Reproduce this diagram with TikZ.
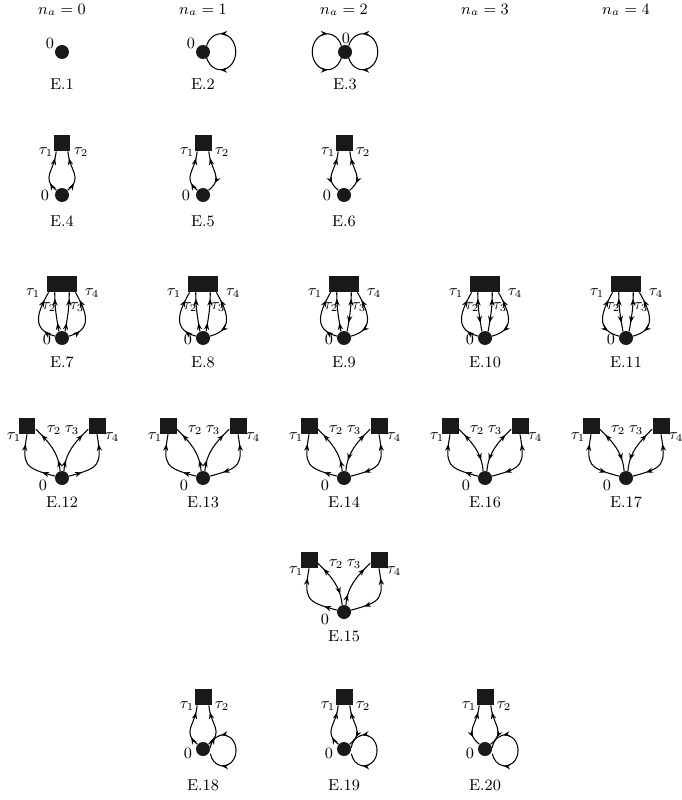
\documentclass[tikz,border=0pt]{standalone}
\usepackage{amsmath}
\usetikzlibrary{arrows.meta,decorations.markings}

\begin{document}
\begin{tikzpicture}[
  x=0.02cm, y=-0.02cm,
  >={Stealth[length=4pt,width=3pt]},
  every node/.style={font=\small},
  vtx/.style={circle, fill=black!90, inner sep=0pt, minimum size=0.28cm},
  tau/.style={rectangle, fill=black!90, inner sep=0pt, minimum width=0.34cm, minimum height=0.32cm},
  taus/.style={rectangle, fill=black!90, inner sep=0pt, minimum width=0.6cm, minimum height=0.32cm},
  ln/.style={semithick},
  uu/.style={ln, postaction={decorate}, decoration={markings,
      mark=at position 0.22 with {\arrow{>}},
      mark=at position 0.84 with {\arrow{>}}}},
  du/.style={ln, postaction={decorate}, decoration={markings,
      mark=at position 0.22 with {\arrowreversed{>}},
      mark=at position 0.84 with {\arrow{>}}}},
  lp/.style={ln, postaction={decorate}, decoration={markings,
      mark=at position 0.21 with {\arrowreversed{>}},
      mark=at position 0.79 with {\arrow{>}}}}
]
  \useasboundingbox (0,0) rectangle (681,800);

  % headers
  \foreach \n/\x in {0/62, 1/203, 2/344, 3/485, 4/626}
    \node (h\n) at (\x,10) {$n_a=\n$};

  % first row
  \node[vtx] (o1) at (62,52) {};
  \node (z1) at (50,43) {$0$};
  \node (e1) at (62,84) {E.1};

  \node[vtx] (o2) at (203,52) {};
  \node (z2) at (191,43) {$0$};
  \node (e2) at (203,84) {E.2};
  \draw[lp] (o2.60) arc[start angle=160, end angle=-160, x radius=0.3cm, y radius=0.36cm];

  \node[vtx] (o3) at (345,52) {};
  \node (z3) at (346,38) {$0$};
  \node (e3) at (345,84) {E.3};
  \draw[lp] (o3.60) arc[start angle=160, end angle=-160, x radius=0.3cm, y radius=0.36cm];
  \draw[lp] (o3.120) arc[start angle=20, end angle=340, x radius=0.3cm, y radius=0.36cm];

  % one square, two lines
  \foreach \id/\x/\sa/\sb in {4/62/uu/uu, 5/203/uu/du, 6/344/du/du} {
    \node[vtx] (o\id) at (\x,195) {};
    \node[tau] (s\id) at (\x,143) {};
    \node (a\id) at (\x-16,152) {$\tau_1$};
    \node (b\id) at (\x+19,152) {$\tau_2$};
    \node (z\id) at (\x-17,195) {$0$};
    \node (e\id) at (\x,221) {E.\id};
    \draw[\sa] (o\id.140) to[out=140,in=-95,looseness=1.35] (s\id.-125);
    \draw[\sb] (o\id.40) to[out=40,in=-85,looseness=1.35] (s\id.-55);
  }

  % two squares joined, four lines
  \foreach \id/\x/\sa/\sb/\sc/\sd in {7/62/uu/uu/uu/uu, 8/203/uu/uu/uu/du,
      9/344/uu/uu/du/du, 10/485/uu/du/du/du, 11/626/du/du/du/du} {
    \node[vtx] (o\id) at (\x,338) {};
    \node[taus] (s\id) at (\x,284) {};
    \node (a\id) at (\x-29,293) {$\tau_1$};
    \node (b\id) at (\x-13,307) {$\tau_2$};
    \node (c\id) at (\x+15,307) {$\tau_3$};
    \node (d\id) at (\x+30,293) {$\tau_4$};
    \node (z\id) at (\x-15,339) {$0$};
    \node (e\id) at (\x,362) {E.\id};
    \draw[\sa] (o\id.165) to[out=165,in=-120,looseness=1.4] (s\id.-148);
    \draw[\sb] (o\id.115) to[out=100,in=-90] (s\id.-131);
    \draw[\sc] (o\id.65) to[out=80,in=-90] (s\id.-49);
    \draw[\sd] (o\id.15) to[out=15,in=-60,looseness=1.4] (s\id.-32);
  }

  % two squares apart, four lines
  \foreach \id/\x/\y/\sa/\sb/\sc/\sd in {12/62/478/uu/uu/uu/uu, 13/203/478/uu/uu/uu/du,
      14/344/478/uu/uu/du/du, 16/485/478/uu/du/du/du, 17/626/478/du/du/du/du,
      15/344/612/uu/du/uu/du} {
    \node[vtx] (o\id) at (\x,\y) {};
    \node[tau] (p\id) at (\x-35,\y-52) {};
    \node[tau] (q\id) at (\x+35,\y-52) {};
    \node (a\id) at (\x-48,\y-41) {$\tau_1$};
    \node (b\id) at (\x-8,\y-48) {$\tau_2$};
    \node (c\id) at (\x+10,\y-48) {$\tau_3$};
    \node (d\id) at (\x+50,\y-41) {$\tau_4$};
    \node (z\id) at (\x-19,\y+7) {$0$};
    \node (e\id) at (\x,\y+24) {E.\id};
    \draw[\sa] (o\id.165) to[out=165,in=-100,looseness=1.6] (p\id.south);
    \draw[\sb] (o\id.105) to[out=95,in=-45] (p\id.-20);
    \draw[\sc] (o\id.75) to[out=85,in=-135] (q\id.-160);
    \draw[\sd] (o\id.15) to[out=15,in=-80,looseness=1.6] (q\id.south);
  }

  % one square, two lines and a loop
  \foreach \id/\x/\sa/\sb in {18/203/uu/uu, 19/344/uu/du, 20/485/du/du} {
    \node[vtx] (o\id) at (\x,749) {};
    \node[tau] (s\id) at (\x,697) {};
    \node (a\id) at (\x-16,706) {$\tau_1$};
    \node (b\id) at (\x+19,706) {$\tau_2$};
    \node (z\id) at (\x-15,753) {$0$};
    \node (e\id) at (\x,785) {E.\id};
    \draw[\sa] (o\id.140) to[out=140,in=-95,looseness=1.35] (s\id.-125);
    \draw[\sb] (o\id.40) to[out=40,in=-85,looseness=1.35] (s\id.-55);
    \draw[lp] (o\id.10) arc[start angle=170, end angle=-168, x radius=0.26cm, y radius=0.31cm];
  }
\end{tikzpicture}
\end{document}
